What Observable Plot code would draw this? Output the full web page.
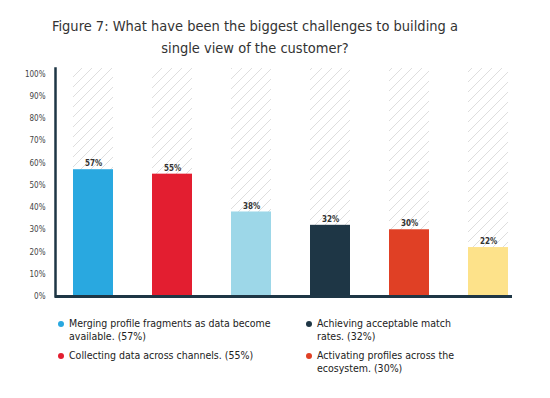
<!DOCTYPE html>
<html>
<head>
<meta charset="utf-8">
<script src="https://cdn.jsdelivr.net/npm/d3@7"></script>
<script src="https://cdn.jsdelivr.net/npm/@observablehq/plot@0.6"></script>
<style>
  body { margin: 0; background: #fff; width: 550px; font-family: "DejaVu Sans Condensed", "Liberation Sans Narrow", sans-serif; }
  #title { height: 60px; box-sizing: border-box; padding-top: 15px; text-align: center; font-size: 14.5px; line-height: 22px; color: #333; padding-right: 40px; }
  #chart svg { display: block; }
  #legend { position: relative; height: 88px; font-size: 10.5px; color: #222; line-height: 13px; }
  .item { position: absolute; }
  .dot { position: absolute; left: -11px; top: 4px; width: 6px; height: 6px; border-radius: 50%; }
</style>
</head>
<body>
<div id="title">Figure 7: What have been the biggest challenges to building a<br>single view of the customer?</div>
<div id="chart"></div>
<div id="legend"></div>
<script>
const categories = [
  "Merging profile fragments as data become available.",
  "Collecting data across channels.",
  "Challenge 3",
  "Achieving acceptable match rates.",
  "Activating profiles across the ecosystem.",
  "Challenge 6"
];
const values = [57, 55, 38, 32, 30, 22];
const colors = ["#29a8e0", "#e31e30", "#9dd7e8", "#1e3645", "#e04025", "#fde28a"];
const yTicks = [0, 10, 20, 30, 40, 50, 60, 70, 80, 90, 100];
const legendItems = [0, 1, 3, 4];

const data = categories.map((c, i) => ({cat: c, value: values[i], color: colors[i]}));

const plot = Plot.plot({
  width: 550,
  height: 250,
  marginLeft: 55,
  marginRight: 38,
  marginTop: 8,
  marginBottom: 14,
  style: {fontFamily: '"DejaVu Sans Condensed", sans-serif', background: "#fff"},
  x: {domain: categories, paddingInner: 0.5, paddingOuter: 0.125, align: 0.8, axis: null},
  y: {domain: [0, 102.5], ticks: yTicks, tickFormat: d => d + "%"},
  marks: [
    Plot.cell(categories, {x: d => d, fill: "url(#hatch)", inset: 0}),
    Plot.barY(data, {x: "cat", y: "value", fill: "color", inset: 0}),
    Plot.text(data, {x: "cat", y: "value", text: d => d.value + "%", dy: -6, fontSize: 8, fontWeight: "bold", fill: "#333"}),
    Plot.axisY({ticks: yTicks, tickFormat: d => d + "%", tickSize: 0, tickPadding: 10, fontSize: 8, fill: "#444", label: null}),
    Plot.frame({anchor: "left", stroke: "#1e3645", strokeWidth: 2.5}),
    Plot.ruleY([0], {stroke: "#1e3645", strokeWidth: 3})
  ]
});

const defs = d3.create("svg:defs");
const pat = defs.append("pattern").attr("id", "hatch").attr("patternUnits", "userSpaceOnUse").attr("width", 10).attr("height", 10);
pat.append("rect").attr("width", 10).attr("height", 10).attr("fill", "#fff");
pat.append("path").attr("d", "M-2.5,2.5 l5,-5 M0,10 l10,-10 M7.5,12.5 l5,-5").attr("stroke", "#dedede").attr("stroke-width", 1);
plot.insertBefore(defs.node(), plot.firstChild);
document.getElementById("chart").appendChild(plot);

const legend = d3.select("#legend");
const positions = [
  {left: 69, top: 7, width: 215},
  {left: 69, top: 39, width: 215},
  {left: 317, top: 7, width: 160},
  {left: 317, top: 39, width: 160}
];
legendItems.forEach((idx, k) => {
  const p = positions[k];
  const it = legend.append("div").attr("class", "item")
    .style("left", p.left + "px").style("top", p.top + "px").style("width", p.width + "px");
  it.append("div").attr("class", "dot").style("background", colors[idx]);
  it.append("span").text(categories[idx] + " (" + values[idx] + "%)");
});
</script>
</body>
</html>
